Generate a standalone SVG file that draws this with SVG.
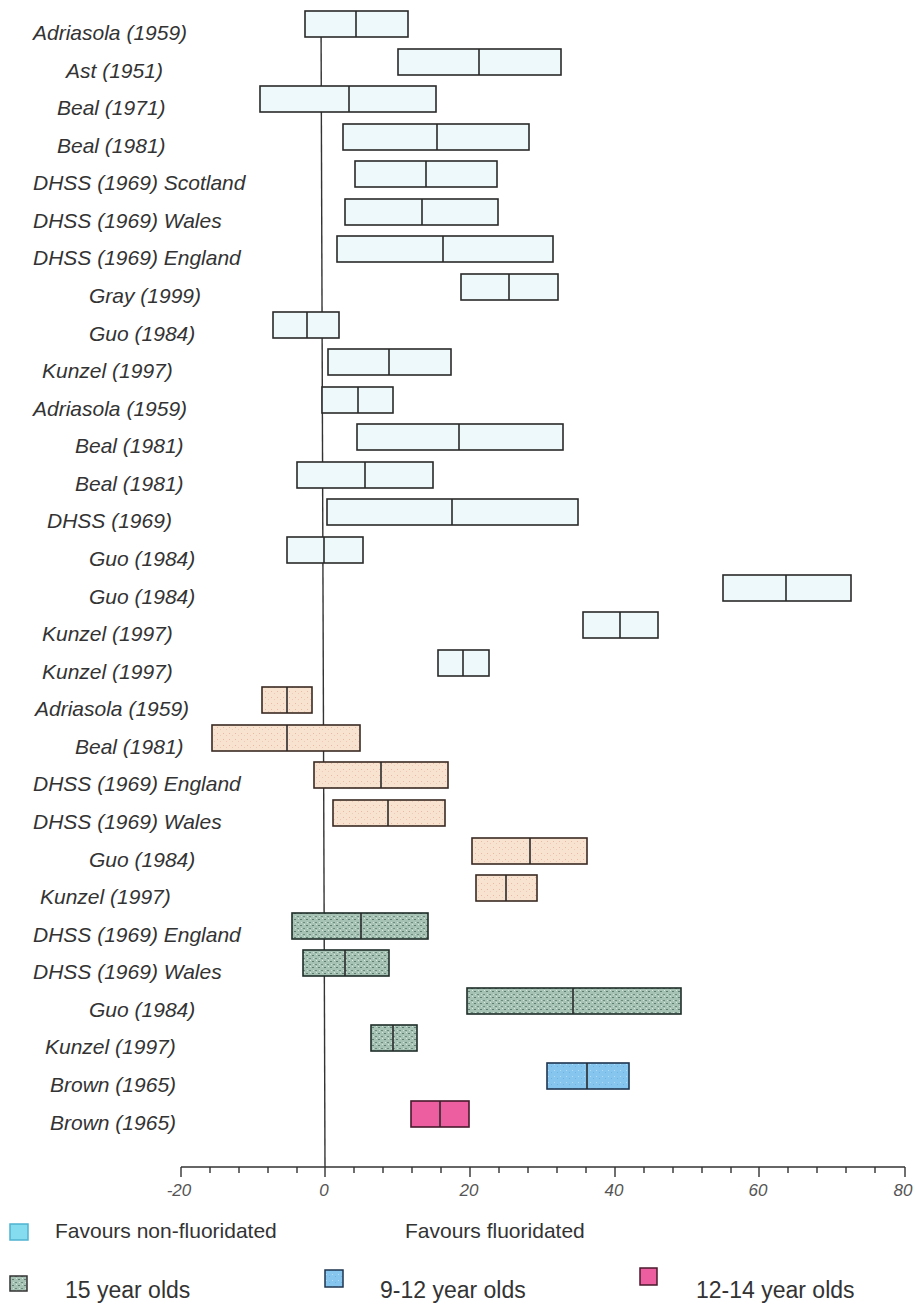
<svg xmlns="http://www.w3.org/2000/svg" width="915" height="1304" viewBox="0 0 915 1304">
<defs>
<pattern id="peach" width="6" height="6" patternUnits="userSpaceOnUse">
<rect width="6" height="6" fill="#f8e3d1"/>
<rect x="1" y="1" width="1" height="1" fill="#e9b9a6"/>
<rect x="4" y="3" width="1" height="1" fill="#efc9b6"/>
</pattern>
<pattern id="green" width="6" height="6" patternUnits="userSpaceOnUse">
<rect width="6" height="6" fill="#a6c2b4"/>
<rect x="0" y="1" width="2" height="1" fill="#5f7d71"/>
<rect x="3" y="4" width="2" height="1" fill="#6d8b7e"/>
<rect x="4" y="0" width="1" height="1" fill="#d5e6dc"/>
<rect x="1" y="4" width="1" height="1" fill="#cfe2d8"/>
</pattern>
<pattern id="blue" width="6" height="6" patternUnits="userSpaceOnUse">
<rect width="6" height="6" fill="#86c6ee"/>
<rect x="2" y="2" width="1" height="1" fill="#b3dcf6"/>
<rect x="5" y="4" width="1" height="1" fill="#6fb4e0"/>
</pattern>
</defs>
<style>
.lbl{font-family:"Liberation Sans",Arial,sans-serif;font-style:italic;font-size:21px;fill:#333}
.tick{font-family:"Liberation Sans",Arial,sans-serif;font-style:italic;font-size:17px;fill:#555;text-anchor:middle}
.leg{font-family:"Liberation Sans",Arial,sans-serif;font-size:21px;fill:#333}
.leg2{font-family:"Liberation Sans",Arial,sans-serif;font-size:23px;fill:#333}
.b{stroke:#2a2a2a;stroke-width:1.6}
.c{fill:#eef9fb}
.p{fill:url(#peach);stroke:#3a2a22}
.g{fill:url(#green);stroke:#1f2d28}
.bl{fill:url(#blue);stroke:#1e3550}
.pk{fill:#ec5e9f;stroke:#4a1a2c}
.m{stroke:#2a2a2a;stroke-width:1.6}
.ax{stroke:#333;stroke-width:1.4;fill:none}
</style>
<rect width="915" height="1304" fill="#ffffff"/>

<g id="connectors">
<line class="ax" x1="321" y1="11" x2="325" y2="1167"/>
<line class="ax" x1="181" y1="1167" x2="905" y2="1167"/>
<path class="ax" d="M181,1167v10M210,1167v6M239,1167v6M268,1167v6M297,1167v6M325,1167v10M354,1167v6M383,1167v6M412,1167v6M441,1167v6M470,1167v10M499,1167v6M528,1167v6M557,1167v6M586,1167v6M615,1167v10M644,1167v6M673,1167v6M702,1167v6M731,1167v6M759,1167v10M788,1167v6M817,1167v6M846,1167v6M875,1167v6M905,1167v10"/>
</g>

<g id="axis-labels">
<text class="tick" x="179" y="1196">-20</text>
<text class="tick" x="324" y="1196">0</text>
<text class="tick" x="469" y="1196">20</text>
<text class="tick" x="614" y="1196">40</text>
<text class="tick" x="758" y="1196">60</text>
<text class="tick" x="903" y="1196">80</text>
</g>

<g id="r1"><rect class="b c" x="305" y="11" width="103" height="26"/><line class="m" x1="356" y1="11" x2="356" y2="37"/><text class="lbl" x="33" y="40">Adriasola (1959)</text></g>
<g id="r2"><rect class="b c" x="398" y="49" width="163" height="26"/><line class="m" x1="479" y1="49" x2="479" y2="75"/><text class="lbl" x="66" y="78">Ast (1951)</text></g>
<g id="r3"><rect class="b c" x="260" y="86" width="176" height="26"/><line class="m" x1="349" y1="86" x2="349" y2="112"/><text class="lbl" x="57" y="115">Beal (1971)</text></g>
<g id="r4"><rect class="b c" x="343" y="124" width="186" height="26"/><line class="m" x1="437" y1="124" x2="437" y2="150"/><text class="lbl" x="57" y="153">Beal (1981)</text></g>
<g id="r5"><rect class="b c" x="355" y="161" width="142" height="26"/><line class="m" x1="426" y1="161" x2="426" y2="187"/><text class="lbl" x="33" y="190">DHSS (1969) Scotland</text></g>
<g id="r6"><rect class="b c" x="345" y="199" width="153" height="26"/><line class="m" x1="422" y1="199" x2="422" y2="225"/><text class="lbl" x="33" y="228">DHSS (1969) Wales</text></g>
<g id="r7"><rect class="b c" x="337" y="236" width="216" height="26"/><line class="m" x1="443" y1="236" x2="443" y2="262"/><text class="lbl" x="33" y="265">DHSS (1969) England</text></g>
<g id="r8"><rect class="b c" x="461" y="274" width="97" height="26"/><line class="m" x1="509" y1="274" x2="509" y2="300"/><text class="lbl" x="89" y="303">Gray (1999)</text></g>
<g id="r9"><rect class="b c" x="273" y="312" width="66" height="26"/><line class="m" x1="307" y1="312" x2="307" y2="338"/><text class="lbl" x="89" y="341">Guo (1984)</text></g>
<g id="r10"><rect class="b c" x="328" y="349" width="123" height="26"/><line class="m" x1="389" y1="349" x2="389" y2="375"/><text class="lbl" x="42" y="378">Kunzel (1997)</text></g>
<g id="r11"><rect class="b c" x="322" y="387" width="71" height="26"/><line class="m" x1="358" y1="387" x2="358" y2="413"/><text class="lbl" x="33" y="416">Adriasola (1959)</text></g>
<g id="r12"><rect class="b c" x="357" y="424" width="206" height="26"/><line class="m" x1="459" y1="424" x2="459" y2="450"/><text class="lbl" x="75" y="453">Beal (1981)</text></g>
<g id="r13"><rect class="b c" x="297" y="462" width="136" height="26"/><line class="m" x1="365" y1="462" x2="365" y2="488"/><text class="lbl" x="75" y="491">Beal (1981)</text></g>
<g id="r14"><rect class="b c" x="327" y="499" width="251" height="26"/><line class="m" x1="452" y1="499" x2="452" y2="525"/><text class="lbl" x="47" y="528">DHSS (1969)</text></g>
<g id="r15"><rect class="b c" x="287" y="537" width="76" height="26"/><line class="m" x1="324" y1="537" x2="324" y2="563"/><text class="lbl" x="89" y="566">Guo (1984)</text></g>
<g id="r16"><rect class="b c" x="723" y="575" width="128" height="26"/><line class="m" x1="786" y1="575" x2="786" y2="601"/><text class="lbl" x="89" y="604">Guo (1984)</text></g>
<g id="r17"><rect class="b c" x="583" y="612" width="75" height="26"/><line class="m" x1="620" y1="612" x2="620" y2="638"/><text class="lbl" x="42" y="641">Kunzel (1997)</text></g>
<g id="r18"><rect class="b c" x="438" y="650" width="51" height="26"/><line class="m" x1="463" y1="650" x2="463" y2="676"/><text class="lbl" x="42" y="679">Kunzel (1997)</text></g>
<g id="r19"><rect class="b p" x="262" y="687" width="50" height="26"/><line class="m" x1="287" y1="687" x2="287" y2="713"/><text class="lbl" x="35" y="716">Adriasola (1959)</text></g>
<g id="r20"><rect class="b p" x="212" y="725" width="148" height="26"/><line class="m" x1="287" y1="725" x2="287" y2="751"/><text class="lbl" x="75" y="754">Beal (1981)</text></g>
<g id="r21"><rect class="b p" x="314" y="762" width="134" height="26"/><line class="m" x1="381" y1="762" x2="381" y2="788"/><text class="lbl" x="33" y="791">DHSS (1969) England</text></g>
<g id="r22"><rect class="b p" x="333" y="800" width="112" height="26"/><line class="m" x1="388" y1="800" x2="388" y2="826"/><text class="lbl" x="33" y="829">DHSS (1969) Wales</text></g>
<g id="r23"><rect class="b p" x="472" y="838" width="115" height="26"/><line class="m" x1="530" y1="838" x2="530" y2="864"/><text class="lbl" x="89" y="867">Guo (1984)</text></g>
<g id="r24"><rect class="b p" x="476" y="875" width="61" height="26"/><line class="m" x1="506" y1="875" x2="506" y2="901"/><text class="lbl" x="40" y="904">Kunzel (1997)</text></g>
<g id="r25"><rect class="b g" x="292" y="913" width="136" height="26"/><line class="m" x1="361" y1="913" x2="361" y2="939"/><text class="lbl" x="33" y="942">DHSS (1969) England</text></g>
<g id="r26"><rect class="b g" x="303" y="950" width="86" height="26"/><line class="m" x1="345" y1="950" x2="345" y2="976"/><text class="lbl" x="33" y="979">DHSS (1969) Wales</text></g>
<g id="r27"><rect class="b g" x="467" y="988" width="214" height="26"/><line class="m" x1="573" y1="988" x2="573" y2="1014"/><text class="lbl" x="89" y="1017">Guo (1984)</text></g>
<g id="r28"><rect class="b g" x="371" y="1025" width="46" height="26"/><line class="m" x1="393" y1="1025" x2="393" y2="1051"/><text class="lbl" x="45" y="1054">Kunzel (1997)</text></g>
<g id="r29"><rect class="b bl" x="547" y="1063" width="82" height="26"/><line class="m" x1="587" y1="1063" x2="587" y2="1089"/><text class="lbl" x="50" y="1092">Brown (1965)</text></g>
<g id="r30"><rect class="b pk" x="411" y="1101" width="58" height="26"/><line class="m" x1="440" y1="1101" x2="440" y2="1127"/><text class="lbl" x="50" y="1130">Brown (1965)</text></g>

<g id="legend">
<rect x="10" y="1224" width="18" height="16" fill="#86dcef" stroke="#4fb3cf" stroke-width="1.5"/>
<text class="leg" x="55" y="1238">Favours non-fluoridated</text>
<text class="leg" x="405" y="1238">Favours fluoridated</text>
<rect x="10" y="1276" width="17" height="15" fill="url(#green)" stroke="#333" stroke-width="1.5"/>
<text class="leg2" x="65" y="1298">15 year olds</text>
<rect x="325" y="1270" width="18" height="17" fill="url(#blue)" stroke="#1e3550" stroke-width="1.5"/>
<text class="leg2" x="380" y="1298">9-12 year olds</text>
<rect x="640" y="1268" width="17" height="17" fill="#ec5e9f" stroke="#4a1a2c" stroke-width="1.5"/>
<text class="leg2" x="696" y="1298">12-14 year olds</text>
</g>
</svg>
